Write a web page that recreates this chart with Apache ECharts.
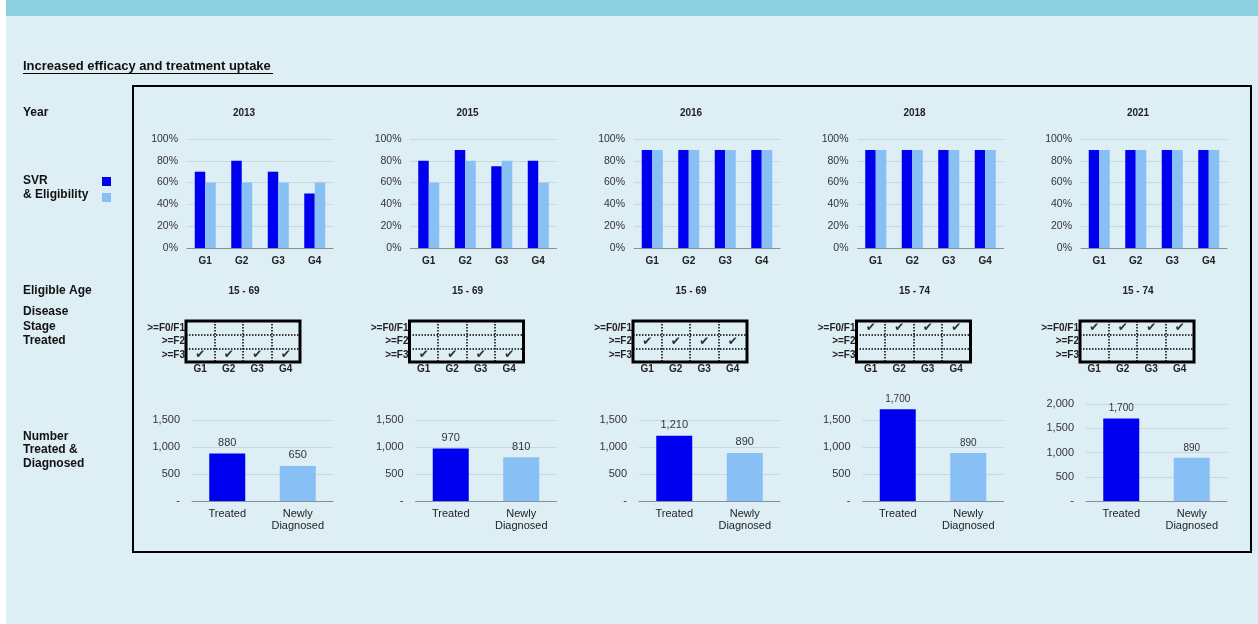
<!DOCTYPE html>
<html>
<head>
<meta charset="utf-8">
<script src="https://cdn.jsdelivr.net/npm/echarts@6/dist/echarts.min.js"></script>
<style>
html,body{margin:0;padding:0;background:#fff;}
#c{width:1258px;height:624px;}
</style>
</head>
<body>
<div id="c"></div>
<script>
// ---- data ----
const years = ['2013', '2015', '2016', '2018', '2021'];
const groups = ['G1', 'G2', 'G3', 'G4'];
const svr = [[70, 80, 70, 50], [80, 90, 75, 80], [90, 90, 90, 90], [90, 90, 90, 90], [90, 90, 90, 90]];
const eligibility = [[60, 60, 60, 60], [60, 80, 80, 60], [90, 90, 90, 90], [90, 90, 90, 90], [90, 90, 90, 90]];
const svrTicks = [0, 20, 40, 60, 80, 100];
const ages = ['15 - 69', '15 - 69', '15 - 69', '15 - 74', '15 - 74'];
const stages = ['>=F0/F1', '>=F2', '>=F3'];
const stageTreated = ['>=F3', '>=F3', '>=F2', '>=F0/F1', '>=F0/F1'];
const numberCats = ['Treated', 'Newly\nDiagnosed'];
const treated = [880, 970, 1210, 1700, 1700];
const diagnosed = [650, 810, 890, 890, 890];
const numberMax = [1500, 1500, 1500, 1500, 2000];

// ---- styles ----
const FONT = '"Liberation Sans", Arial, sans-serif';
const DARK = '#0000F0';
const LIGHT = '#88BFF5';
const BG = '#DEEEF5';
const GRIDLINE = '#C5D8E2';
const AXIS = '#8A8F94';
const STEP = 223.5;

const fmt = v => v === 0 ? '-' : v.toLocaleString('en-US');

const grid = [], xAxis = [], yAxis = [], series = [], graphic = [];

years.forEach((yr, k) => {
  const off = STEP * k;
  // SVR chart
  let gi = grid.length;
  grid.push({left: 187 + off, top: 139, width: 146, height: 109});
  xAxis.push({gridIndex: gi, type: 'category', data: groups,
    axisLine: {lineStyle: {color: AXIS}}, axisTick: {show: false},
    axisLabel: {fontFamily: FONT, fontSize: 10, fontWeight: 'bold', color: '#222', margin: 8}});
  yAxis.push({gridIndex: gi, type: 'value', min: svrTicks[0], max: svrTicks[svrTicks.length - 1], interval: 20,
    axisLine: {show: false}, axisTick: {show: false},
    splitLine: {lineStyle: {color: GRIDLINE}},
    axisLabel: {fontFamily: FONT, fontSize: 10.5, color: '#333', margin: 9, formatter: '{value}%'}});
  series.push({name: 'SVR', type: 'bar', xAxisIndex: gi, yAxisIndex: gi, data: svr[k],
    barWidth: 10.5, barGap: '0%', itemStyle: {color: DARK}});
  series.push({name: 'Eligibility', type: 'bar', xAxisIndex: gi, yAxisIndex: gi, data: eligibility[k],
    barWidth: 10.5, barGap: '0%', itemStyle: {color: LIGHT}});

  // Disease stage grid
  gi = grid.length;
  grid.push({left: 186 + off, top: 321, width: 114, height: 41, show: true,
    borderColor: '#000', borderWidth: 3, backgroundColor: 'transparent', z: 5});
  xAxis.push({gridIndex: gi, type: 'category', data: groups,
    axisLine: {show: false}, axisTick: {show: false},
    splitLine: {show: true, lineStyle: {color: '#000', type: 'dotted', width: 1.5}},
    axisLabel: {fontFamily: FONT, fontSize: 10, fontWeight: 'bold', color: '#222', margin: 2}});
  yAxis.push({gridIndex: gi, type: 'category', data: stages, inverse: true,
    axisLine: {show: false}, axisTick: {show: false},
    splitLine: {show: true, lineStyle: {color: '#000', type: 'dotted', width: 1.5}},
    axisLabel: {fontFamily: FONT, fontSize: 10, fontWeight: 'bold', color: '#222', margin: 1}});
  series.push({type: 'scatter', xAxisIndex: gi, yAxisIndex: gi,
    data: groups.map(g => [g, stageTreated[k]]),
    symbol: 'circle', symbolSize: 1, itemStyle: {color: 'rgba(0,0,0,0)'},
    label: {show: true, position: 'inside', formatter: '\u2714', fontSize: 12, fontWeight: 'bold',
      fontFamily: '"DejaVu Sans", sans-serif', color: '#000'}});

  // Number treated & diagnosed
  gi = grid.length;
  const h = numberMax[k] === 2000 ? 97 : 81;
  grid.push({left: 192 + off, top: 501 - h, width: 141, height: h});
  xAxis.push({gridIndex: gi, type: 'category', data: numberCats,
    axisLine: {lineStyle: {color: AXIS}}, axisTick: {show: false},
    axisLabel: {fontFamily: FONT, fontSize: 11, color: '#222', margin: 7, lineHeight: 12}});
  yAxis.push({gridIndex: gi, type: 'value', min: 0, max: numberMax[k], interval: 500,
    axisLine: {show: false}, axisTick: {show: false},
    splitLine: {lineStyle: {color: GRIDLINE}},
    axisLabel: {fontFamily: FONT, fontSize: 11, color: '#333', margin: 12, formatter: fmt}});
  const lblSize = k >= 3 ? 10 : 11;
  series.push({type: 'bar', xAxisIndex: gi, yAxisIndex: gi, clip: false, barWidth: 36,
    data: [{value: treated[k], itemStyle: {color: DARK}}, {value: diagnosed[k], itemStyle: {color: LIGHT}}],
    label: {show: true, position: 'top', distance: 5, fontFamily: FONT, fontSize: lblSize, color: '#333',
      formatter: p => fmt(p.value)}});

  // year and age headers
  graphic.push({type: 'text', x: 244 + off, y: 113, style: {text: yr,
    fill: '#222', font: 'bold 10px ' + FONT, align: 'center', verticalAlign: 'middle'}});
  graphic.push({type: 'text', x: 244 + off, y: 291, style: {text: ages[k],
    fill: '#222', font: 'bold 10px ' + FONT, align: 'center', verticalAlign: 'middle'}});
});

// page decoration
graphic.unshift(
  {type: 'rect', x: 0, y: 0, shape: {x: 0, y: 0, width: 6, height: 624}, style: {fill: '#fff'}, z: -10},
  {type: 'rect', x: 0, y: 0, shape: {x: 6, y: 0, width: 1252, height: 16}, style: {fill: '#8CCFE0'}, z: -10},
  {type: 'rect', x: 0, y: 0, shape: {x: 133, y: 86, width: 1118, height: 466},
    style: {fill: 'none', stroke: '#000', lineWidth: 2}, z: 10},
  {type: 'line', x: 0, y: 0, shape: {x1: 23, y1: 73.5, x2: 273, y2: 73.5}, style: {stroke: '#000', lineWidth: 1}}
);

const leftTexts = [
  ['Increased efficacy and treatment uptake', 66, 13],
  ['Year', 113, 12],
  ['SVR', 181, 12], ['& Eligibility', 195, 12],
  ['Eligible Age', 291, 12],
  ['Disease', 312, 12], ['Stage', 327, 12], ['Treated', 341, 12],
  ['Number', 437, 12], ['Treated &', 450, 12], ['Diagnosed', 464, 12]
];
leftTexts.forEach(([t, y, s]) => graphic.push({type: 'text', x: 23, y: y,
  style: {text: t, fill: '#111', font: 'bold ' + s + 'px ' + FONT, verticalAlign: 'middle'}}));

const chart = echarts.init(document.getElementById('c'), null, {renderer: 'canvas'});
chart.setOption({
  backgroundColor: BG,
  animation: false,
  legend: {data: ['SVR', 'Eligibility'], orient: 'vertical', left: 102, top: 177,
    itemWidth: 9, itemHeight: 9, itemGap: 7, icon: 'rect', formatter: () => '',
    textStyle: {fontSize: 1}, selectedMode: false, padding: 0},
  grid, xAxis, yAxis, series, graphic
});
</script>
</body>
</html>
